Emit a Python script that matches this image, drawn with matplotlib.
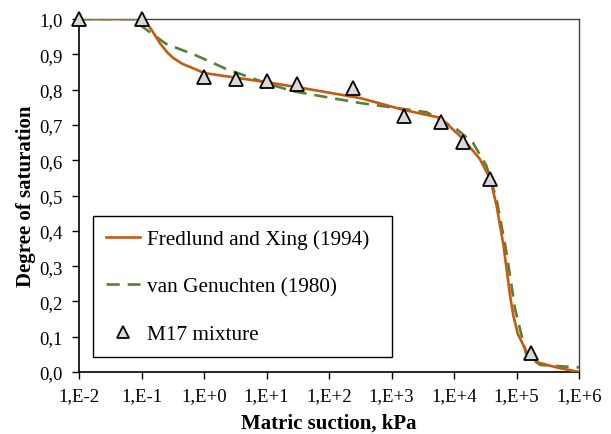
import numpy as np
import matplotlib
matplotlib.use('Agg')
import matplotlib.pyplot as plt
from matplotlib.ticker import FixedLocator, FuncFormatter, NullLocator

plt.rcParams['font.family'] = ['Liberation Serif', 'DejaVu Serif']

# measured points, M17 mixture
suction_pts = [0.01, 0.1, 1.0, 3.2, 10.0, 31.0, 245.0, 1600.0, 6100.0, 14000.0, 38000.0, 170000.0]
sat_pts = [1.0, 1.0, 0.835, 0.830, 0.824, 0.816, 0.805, 0.724, 0.707, 0.651, 0.547, 0.054]

# Fredlund and Xing (1994) fit
fx_suction = [0.01, 0.1, 0.12, 0.15, 0.2, 0.26, 0.32, 0.45, 0.68, 1.0, 10.0, 31.0, 316.0,
              1600.0, 6100.0, 14000.0, 26000.0, 38000.0, 48000.0, 62000.0, 79000.0, 89000.0,
              105000.0, 145000.0, 210000.0, 437000.0, 1000000.0]
fx_sat = [1.0, 1.0, 0.99, 0.965, 0.93, 0.905, 0.89, 0.873, 0.86, 0.847, 0.821, 0.807, 0.776,
          0.742, 0.720, 0.660, 0.603, 0.547, 0.471, 0.358, 0.216, 0.160, 0.108, 0.057, 0.028,
          0.013, 0.0]

# van Genuchten (1980) fit
vg_suction = [0.01, 0.08, 0.1, 0.25, 0.68, 2.3, 10.0, 27.0, 316.0, 3650.0, 11000.0,
              20000.0, 33000.0, 48000.0, 69000.0, 95000.0, 145000.0, 240000.0, 800000.0, 1000000.0]
vg_sat = [1.0, 1.0, 0.98, 0.929, 0.900, 0.858, 0.818, 0.795, 0.762, 0.736, 0.688,
          0.650, 0.584, 0.490, 0.340, 0.178, 0.046, 0.020, 0.014, 0.013]

xtick_vals = [1e-2, 1e-1, 1e0, 1e1, 1e2, 1e3, 1e4, 1e5, 1e6]
xtick_labels = ['1,E-2', '1,E-1', '1,E+0', '1,E+1', '1,E+2', '1,E+3', '1,E+4', '1,E+5', '1,E+6']

fig = plt.figure(figsize=(6.11, 4.35), dpi=100)
ax = fig.add_axes([79 / 611, 1 - 373 / 435, 500 / 611, 353 / 435])

ax.plot(fx_suction, fx_sat, color='#C55A11', lw=1.9, label='Fredlund and Xing (1994)', zorder=3)
ax.plot(vg_suction, vg_sat, color='#548235', lw=1.9, ls=(0, (5, 3)),
        label='van Genuchten (1980)', zorder=2)
ax.plot(suction_pts, sat_pts, ls='none', marker='^', ms=10, mfc='#D9D9D9', mec='black',
        mew=1.3, label='M17 mixture', zorder=4, clip_on=False)

ax.set_xscale('log')
ax.set_xlim(1e-2, 1e6)
ax.set_ylim(0, 1.0)
ax.xaxis.set_major_locator(FixedLocator(xtick_vals))
ax.xaxis.set_minor_locator(NullLocator())
ax.set_xticklabels(xtick_labels)
ax.set_yticks(np.arange(0, 1.01, 0.1))
ax.yaxis.set_major_formatter(FuncFormatter(lambda v, p: ('%.1f' % v).replace('.', ',')))

ax.tick_params(axis='both', direction='out', length=5, width=1, labelsize=13.5, colors='black')
ax.tick_params(axis='x', pad=6)
ax.tick_params(axis='y', pad=7)
for side in ['left', 'bottom']:
    ax.spines[side].set_color('black')
    ax.spines[side].set_linewidth(1.2)
for side in ['top', 'right']:
    ax.spines[side].set_color('#404040')
    ax.spines[side].set_linewidth(1.0)

ax.set_xlabel('Matric suction, kPa', fontsize=15, fontweight='bold', labelpad=6)
ax.set_ylabel('Degree of saturation', fontsize=15, fontweight='bold', labelpad=2)

leg = ax.legend(loc='lower left', bbox_to_anchor=(0.028, 0.042, 0.597, 0.405), mode='expand',
                fontsize=15.3, frameon=True, fancybox=False, edgecolor='black',
                handlelength=1.6, handletextpad=0.3, labelspacing=1.3, borderpad=0.62,
                markerscale=0.8, borderaxespad=0)
leg.get_frame().set_linewidth(1.0)
leg.get_frame().set_alpha(1)

fig.savefig('out.png', dpi=100)
